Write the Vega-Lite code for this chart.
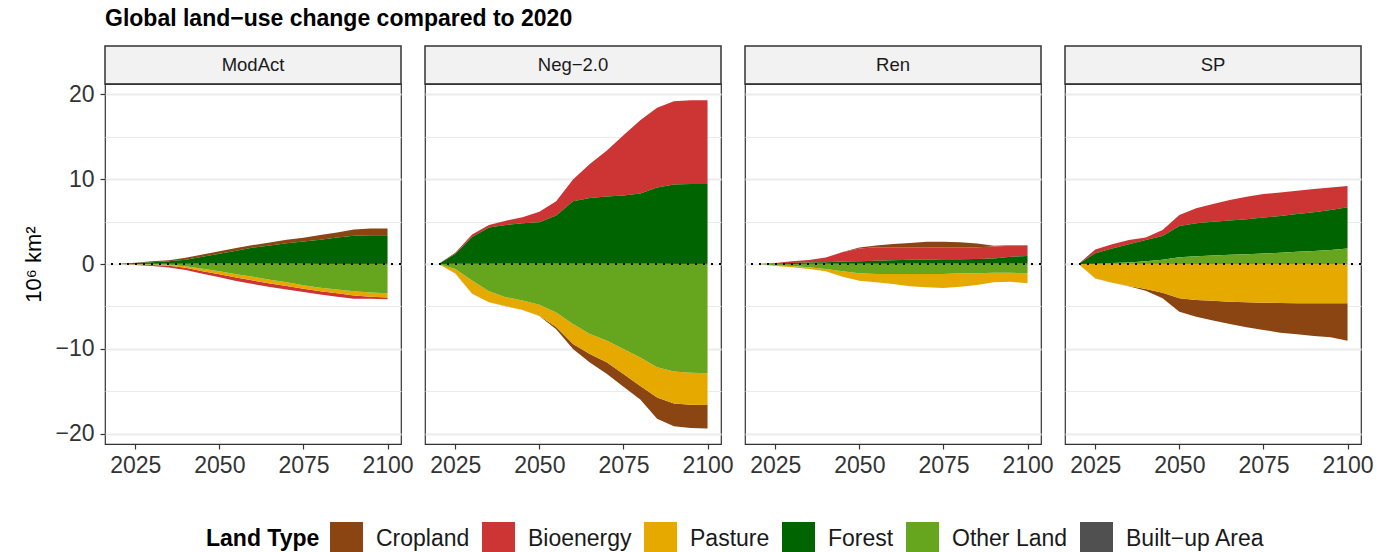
{
  "$schema": "https://vega.github.io/schema/vega-lite/v6.json",
  "padding": {"left": 22, "top": 8, "right": 5, "bottom": 5},
  "title": {"text": "Global land−use change compared to 2020", "anchor": "start", "frame": "group", "fontSize": 23, "fontWeight": "bold", "color": "#000000", "offset": 14, "font": "Liberation Sans"},
  "datasets": {
    "landTypes": [
      {"type": "Built−up Area", "stackOrder": 0},
      {"type": "Other Land", "stackOrder": 1},
      {"type": "Forest", "stackOrder": 2},
      {"type": "Pasture", "stackOrder": 3},
      {"type": "Bioenergy", "stackOrder": 4},
      {"type": "Cropland", "stackOrder": 5}
    ],
    "lu": [
      {"scenario":"ModAct","year":2020,"type":"Cropland","value":0},{"scenario":"ModAct","year":2020,"type":"Bioenergy","value":0},{"scenario":"ModAct","year":2020,"type":"Pasture","value":0},{"scenario":"ModAct","year":2020,"type":"Forest","value":0},{"scenario":"ModAct","year":2020,"type":"Other Land","value":0},{"scenario":"ModAct","year":2020,"type":"Built−up Area","value":0},
      {"scenario":"ModAct","year":2025,"type":"Cropland","value":0.05},{"scenario":"ModAct","year":2025,"type":"Bioenergy","value":-0.05},{"scenario":"ModAct","year":2025,"type":"Pasture","value":-0.03},{"scenario":"ModAct","year":2025,"type":"Forest","value":0.1},{"scenario":"ModAct","year":2025,"type":"Other Land","value":-0.03},{"scenario":"ModAct","year":2025,"type":"Built−up Area","value":0.01},
      {"scenario":"ModAct","year":2030,"type":"Cropland","value":0.1},{"scenario":"ModAct","year":2030,"type":"Bioenergy","value":-0.12},{"scenario":"ModAct","year":2030,"type":"Pasture","value":-0.06},{"scenario":"ModAct","year":2030,"type":"Forest","value":0.2},{"scenario":"ModAct","year":2030,"type":"Other Land","value":-0.06},{"scenario":"ModAct","year":2030,"type":"Built−up Area","value":0.02},
      {"scenario":"ModAct","year":2035,"type":"Cropland","value":0.12},{"scenario":"ModAct","year":2035,"type":"Bioenergy","value":-0.2},{"scenario":"ModAct","year":2035,"type":"Pasture","value":-0.1},{"scenario":"ModAct","year":2035,"type":"Forest","value":0.3},{"scenario":"ModAct","year":2035,"type":"Other Land","value":-0.1},{"scenario":"ModAct","year":2035,"type":"Built−up Area","value":0.03},
      {"scenario":"ModAct","year":2040,"type":"Cropland","value":0.25},{"scenario":"ModAct","year":2040,"type":"Bioenergy","value":-0.25},{"scenario":"ModAct","year":2040,"type":"Pasture","value":-0.2},{"scenario":"ModAct","year":2040,"type":"Forest","value":0.45},{"scenario":"ModAct","year":2040,"type":"Other Land","value":-0.25},{"scenario":"ModAct","year":2040,"type":"Built−up Area","value":0.04},
      {"scenario":"ModAct","year":2045,"type":"Cropland","value":0.28},{"scenario":"ModAct","year":2045,"type":"Bioenergy","value":-0.3},{"scenario":"ModAct","year":2045,"type":"Pasture","value":-0.3},{"scenario":"ModAct","year":2045,"type":"Forest","value":0.8},{"scenario":"ModAct","year":2045,"type":"Other Land","value":-0.55},{"scenario":"ModAct","year":2045,"type":"Built−up Area","value":0.05},
      {"scenario":"ModAct","year":2050,"type":"Cropland","value":0.3},{"scenario":"ModAct","year":2050,"type":"Bioenergy","value":-0.35},{"scenario":"ModAct","year":2050,"type":"Pasture","value":-0.35},{"scenario":"ModAct","year":2050,"type":"Forest","value":1.15},{"scenario":"ModAct","year":2050,"type":"Other Land","value":-0.85},{"scenario":"ModAct","year":2050,"type":"Built−up Area","value":0.06},
      {"scenario":"ModAct","year":2055,"type":"Cropland","value":0.3},{"scenario":"ModAct","year":2055,"type":"Bioenergy","value":-0.4},{"scenario":"ModAct","year":2055,"type":"Pasture","value":-0.4},{"scenario":"ModAct","year":2055,"type":"Forest","value":1.5},{"scenario":"ModAct","year":2055,"type":"Other Land","value":-1.2},{"scenario":"ModAct","year":2055,"type":"Built−up Area","value":0.07},
      {"scenario":"ModAct","year":2060,"type":"Cropland","value":0.3},{"scenario":"ModAct","year":2060,"type":"Bioenergy","value":-0.4},{"scenario":"ModAct","year":2060,"type":"Pasture","value":-0.45},{"scenario":"ModAct","year":2060,"type":"Forest","value":1.85},{"scenario":"ModAct","year":2060,"type":"Other Land","value":-1.5},{"scenario":"ModAct","year":2060,"type":"Built−up Area","value":0.08},
      {"scenario":"ModAct","year":2065,"type":"Cropland","value":0.35},{"scenario":"ModAct","year":2065,"type":"Bioenergy","value":-0.4},{"scenario":"ModAct","year":2065,"type":"Pasture","value":-0.45},{"scenario":"ModAct","year":2065,"type":"Forest","value":2.1},{"scenario":"ModAct","year":2065,"type":"Other Land","value":-1.85},{"scenario":"ModAct","year":2065,"type":"Built−up Area","value":0.09},
      {"scenario":"ModAct","year":2070,"type":"Cropland","value":0.4},{"scenario":"ModAct","year":2070,"type":"Bioenergy","value":-0.4},{"scenario":"ModAct","year":2070,"type":"Pasture","value":-0.45},{"scenario":"ModAct","year":2070,"type":"Forest","value":2.35},{"scenario":"ModAct","year":2070,"type":"Other Land","value":-2.15},{"scenario":"ModAct","year":2070,"type":"Built−up Area","value":0.1},
      {"scenario":"ModAct","year":2075,"type":"Cropland","value":0.45},{"scenario":"ModAct","year":2075,"type":"Bioenergy","value":-0.4},{"scenario":"ModAct","year":2075,"type":"Pasture","value":-0.4},{"scenario":"ModAct","year":2075,"type":"Forest","value":2.55},{"scenario":"ModAct","year":2075,"type":"Other Land","value":-2.5},{"scenario":"ModAct","year":2075,"type":"Built−up Area","value":0.1},
      {"scenario":"ModAct","year":2080,"type":"Cropland","value":0.55},{"scenario":"ModAct","year":2080,"type":"Bioenergy","value":-0.4},{"scenario":"ModAct","year":2080,"type":"Pasture","value":-0.4},{"scenario":"ModAct","year":2080,"type":"Forest","value":2.75},{"scenario":"ModAct","year":2080,"type":"Other Land","value":-2.8},{"scenario":"ModAct","year":2080,"type":"Built−up Area","value":0.11},
      {"scenario":"ModAct","year":2085,"type":"Cropland","value":0.6},{"scenario":"ModAct","year":2085,"type":"Bioenergy","value":-0.4},{"scenario":"ModAct","year":2085,"type":"Pasture","value":-0.45},{"scenario":"ModAct","year":2085,"type":"Forest","value":3.0},{"scenario":"ModAct","year":2085,"type":"Other Land","value":-3.0},{"scenario":"ModAct","year":2085,"type":"Built−up Area","value":0.12},
      {"scenario":"ModAct","year":2090,"type":"Cropland","value":0.75},{"scenario":"ModAct","year":2090,"type":"Bioenergy","value":-0.4},{"scenario":"ModAct","year":2090,"type":"Pasture","value":-0.5},{"scenario":"ModAct","year":2090,"type":"Forest","value":3.2},{"scenario":"ModAct","year":2090,"type":"Other Land","value":-3.2},{"scenario":"ModAct","year":2090,"type":"Built−up Area","value":0.12},
      {"scenario":"ModAct","year":2095,"type":"Cropland","value":0.8},{"scenario":"ModAct","year":2095,"type":"Bioenergy","value":-0.25},{"scenario":"ModAct","year":2095,"type":"Pasture","value":-0.5},{"scenario":"ModAct","year":2095,"type":"Forest","value":3.25},{"scenario":"ModAct","year":2095,"type":"Other Land","value":-3.35},{"scenario":"ModAct","year":2095,"type":"Built−up Area","value":0.13},
      {"scenario":"ModAct","year":2100,"type":"Cropland","value":0.8},{"scenario":"ModAct","year":2100,"type":"Bioenergy","value":-0.2},{"scenario":"ModAct","year":2100,"type":"Pasture","value":-0.5},{"scenario":"ModAct","year":2100,"type":"Forest","value":3.25},{"scenario":"ModAct","year":2100,"type":"Other Land","value":-3.45},{"scenario":"ModAct","year":2100,"type":"Built−up Area","value":0.13},

      {"scenario":"Neg−2.0","year":2020,"type":"Cropland","value":0},{"scenario":"Neg−2.0","year":2020,"type":"Bioenergy","value":0},{"scenario":"Neg−2.0","year":2020,"type":"Pasture","value":0},{"scenario":"Neg−2.0","year":2020,"type":"Forest","value":0},{"scenario":"Neg−2.0","year":2020,"type":"Other Land","value":0},{"scenario":"Neg−2.0","year":2020,"type":"Built−up Area","value":0},
      {"scenario":"Neg−2.0","year":2025,"type":"Cropland","value":-0.01},{"scenario":"Neg−2.0","year":2025,"type":"Bioenergy","value":0.15},{"scenario":"Neg−2.0","year":2025,"type":"Pasture","value":-0.5},{"scenario":"Neg−2.0","year":2025,"type":"Forest","value":1.15},{"scenario":"Neg−2.0","year":2025,"type":"Other Land","value":-0.6},{"scenario":"Neg−2.0","year":2025,"type":"Built−up Area","value":0.02},
      {"scenario":"Neg−2.0","year":2030,"type":"Cropland","value":-0.01},{"scenario":"Neg−2.0","year":2030,"type":"Bioenergy","value":0.3},{"scenario":"Neg−2.0","year":2030,"type":"Pasture","value":-1.55},{"scenario":"Neg−2.0","year":2030,"type":"Forest","value":3.15},{"scenario":"Neg−2.0","year":2030,"type":"Other Land","value":-1.95},{"scenario":"Neg−2.0","year":2030,"type":"Built−up Area","value":0.03},
      {"scenario":"Neg−2.0","year":2035,"type":"Cropland","value":-0.01},{"scenario":"Neg−2.0","year":2035,"type":"Bioenergy","value":0.3},{"scenario":"Neg−2.0","year":2035,"type":"Pasture","value":-1.3},{"scenario":"Neg−2.0","year":2035,"type":"Forest","value":4.25},{"scenario":"Neg−2.0","year":2035,"type":"Other Land","value":-3.2},{"scenario":"Neg−2.0","year":2035,"type":"Built−up Area","value":0.04},
      {"scenario":"Neg−2.0","year":2040,"type":"Cropland","value":-0.01},{"scenario":"Neg−2.0","year":2040,"type":"Bioenergy","value":0.5},{"scenario":"Neg−2.0","year":2040,"type":"Pasture","value":-1.05},{"scenario":"Neg−2.0","year":2040,"type":"Forest","value":4.55},{"scenario":"Neg−2.0","year":2040,"type":"Other Land","value":-3.9},{"scenario":"Neg−2.0","year":2040,"type":"Built−up Area","value":0.05},
      {"scenario":"Neg−2.0","year":2045,"type":"Cropland","value":-0.01},{"scenario":"Neg−2.0","year":2045,"type":"Bioenergy","value":0.7},{"scenario":"Neg−2.0","year":2045,"type":"Pasture","value":-1.1},{"scenario":"Neg−2.0","year":2045,"type":"Forest","value":4.75},{"scenario":"Neg−2.0","year":2045,"type":"Other Land","value":-4.3},{"scenario":"Neg−2.0","year":2045,"type":"Built−up Area","value":0.05},
      {"scenario":"Neg−2.0","year":2050,"type":"Cropland","value":-0.01},{"scenario":"Neg−2.0","year":2050,"type":"Bioenergy","value":1.25},{"scenario":"Neg−2.0","year":2050,"type":"Pasture","value":-1.3},{"scenario":"Neg−2.0","year":2050,"type":"Forest","value":4.85},{"scenario":"Neg−2.0","year":2050,"type":"Other Land","value":-4.8},{"scenario":"Neg−2.0","year":2050,"type":"Built−up Area","value":0.06},
      {"scenario":"Neg−2.0","year":2055,"type":"Cropland","value":-0.28},{"scenario":"Neg−2.0","year":2055,"type":"Bioenergy","value":1.65},{"scenario":"Neg−2.0","year":2055,"type":"Pasture","value":-1.7},{"scenario":"Neg−2.0","year":2055,"type":"Forest","value":5.65},{"scenario":"Neg−2.0","year":2055,"type":"Other Land","value":-5.7},{"scenario":"Neg−2.0","year":2055,"type":"Built−up Area","value":0.07},
      {"scenario":"Neg−2.0","year":2060,"type":"Cropland","value":-0.6},{"scenario":"Neg−2.0","year":2060,"type":"Bioenergy","value":2.55},{"scenario":"Neg−2.0","year":2060,"type":"Pasture","value":-2.35},{"scenario":"Neg−2.0","year":2060,"type":"Forest","value":7.3},{"scenario":"Neg−2.0","year":2060,"type":"Other Land","value":-7.05},{"scenario":"Neg−2.0","year":2060,"type":"Built−up Area","value":0.08},
      {"scenario":"Neg−2.0","year":2065,"type":"Cropland","value":-1.0},{"scenario":"Neg−2.0","year":2065,"type":"Bioenergy","value":4.0},{"scenario":"Neg−2.0","year":2065,"type":"Pasture","value":-2.35},{"scenario":"Neg−2.0","year":2065,"type":"Forest","value":7.7},{"scenario":"Neg−2.0","year":2065,"type":"Other Land","value":-8.25},{"scenario":"Neg−2.0","year":2065,"type":"Built−up Area","value":0.08},
      {"scenario":"Neg−2.0","year":2070,"type":"Cropland","value":-1.35},{"scenario":"Neg−2.0","year":2070,"type":"Bioenergy","value":5.4},{"scenario":"Neg−2.0","year":2070,"type":"Pasture","value":-2.55},{"scenario":"Neg−2.0","year":2070,"type":"Forest","value":7.85},{"scenario":"Neg−2.0","year":2070,"type":"Other Land","value":-9.0},{"scenario":"Neg−2.0","year":2070,"type":"Built−up Area","value":0.09},
      {"scenario":"Neg−2.0","year":2075,"type":"Cropland","value":-1.5},{"scenario":"Neg−2.0","year":2075,"type":"Bioenergy","value":7.1},{"scenario":"Neg−2.0","year":2075,"type":"Pasture","value":-2.95},{"scenario":"Neg−2.0","year":2075,"type":"Forest","value":7.95},{"scenario":"Neg−2.0","year":2075,"type":"Other Land","value":-10.0},{"scenario":"Neg−2.0","year":2075,"type":"Built−up Area","value":0.1},
      {"scenario":"Neg−2.0","year":2080,"type":"Cropland","value":-1.6},{"scenario":"Neg−2.0","year":2080,"type":"Bioenergy","value":8.6},{"scenario":"Neg−2.0","year":2080,"type":"Pasture","value":-3.35},{"scenario":"Neg−2.0","year":2080,"type":"Forest","value":8.2},{"scenario":"Neg−2.0","year":2080,"type":"Other Land","value":-11.0},{"scenario":"Neg−2.0","year":2080,"type":"Built−up Area","value":0.1},
      {"scenario":"Neg−2.0","year":2085,"type":"Cropland","value":-2.5},{"scenario":"Neg−2.0","year":2085,"type":"Bioenergy","value":9.4},{"scenario":"Neg−2.0","year":2085,"type":"Pasture","value":-3.55},{"scenario":"Neg−2.0","year":2085,"type":"Forest","value":8.9},{"scenario":"Neg−2.0","year":2085,"type":"Other Land","value":-12.15},{"scenario":"Neg−2.0","year":2085,"type":"Built−up Area","value":0.1},
      {"scenario":"Neg−2.0","year":2090,"type":"Cropland","value":-2.7},{"scenario":"Neg−2.0","year":2090,"type":"Bioenergy","value":9.8},{"scenario":"Neg−2.0","year":2090,"type":"Pasture","value":-3.75},{"scenario":"Neg−2.0","year":2090,"type":"Forest","value":9.25},{"scenario":"Neg−2.0","year":2090,"type":"Other Land","value":-12.65},{"scenario":"Neg−2.0","year":2090,"type":"Built−up Area","value":0.11},
      {"scenario":"Neg−2.0","year":2095,"type":"Cropland","value":-2.75},{"scenario":"Neg−2.0","year":2095,"type":"Bioenergy","value":9.85},{"scenario":"Neg−2.0","year":2095,"type":"Pasture","value":-3.75},{"scenario":"Neg−2.0","year":2095,"type":"Forest","value":9.3},{"scenario":"Neg−2.0","year":2095,"type":"Other Land","value":-12.8},{"scenario":"Neg−2.0","year":2095,"type":"Built−up Area","value":0.11},
      {"scenario":"Neg−2.0","year":2100,"type":"Cropland","value":-2.75},{"scenario":"Neg−2.0","year":2100,"type":"Bioenergy","value":9.85},{"scenario":"Neg−2.0","year":2100,"type":"Pasture","value":-3.75},{"scenario":"Neg−2.0","year":2100,"type":"Forest","value":9.3},{"scenario":"Neg−2.0","year":2100,"type":"Other Land","value":-12.85},{"scenario":"Neg−2.0","year":2100,"type":"Built−up Area","value":0.11},

      {"scenario":"Ren","year":2020,"type":"Cropland","value":0},{"scenario":"Ren","year":2020,"type":"Bioenergy","value":0},{"scenario":"Ren","year":2020,"type":"Pasture","value":0},{"scenario":"Ren","year":2020,"type":"Forest","value":0},{"scenario":"Ren","year":2020,"type":"Other Land","value":0},{"scenario":"Ren","year":2020,"type":"Built−up Area","value":0},
      {"scenario":"Ren","year":2025,"type":"Cropland","value":0},{"scenario":"Ren","year":2025,"type":"Bioenergy","value":0.07},{"scenario":"Ren","year":2025,"type":"Pasture","value":-0.08},{"scenario":"Ren","year":2025,"type":"Forest","value":0.05},{"scenario":"Ren","year":2025,"type":"Other Land","value":-0.16},{"scenario":"Ren","year":2025,"type":"Built−up Area","value":0.01},
      {"scenario":"Ren","year":2030,"type":"Cropland","value":0},{"scenario":"Ren","year":2030,"type":"Bioenergy","value":0.2},{"scenario":"Ren","year":2030,"type":"Pasture","value":-0.15},{"scenario":"Ren","year":2030,"type":"Forest","value":0.1},{"scenario":"Ren","year":2030,"type":"Other Land","value":-0.24},{"scenario":"Ren","year":2030,"type":"Built−up Area","value":0.01},
      {"scenario":"Ren","year":2035,"type":"Cropland","value":0},{"scenario":"Ren","year":2035,"type":"Bioenergy","value":0.3},{"scenario":"Ren","year":2035,"type":"Pasture","value":-0.2},{"scenario":"Ren","year":2035,"type":"Forest","value":0.15},{"scenario":"Ren","year":2035,"type":"Other Land","value":-0.39},{"scenario":"Ren","year":2035,"type":"Built−up Area","value":0.02},
      {"scenario":"Ren","year":2040,"type":"Cropland","value":0},{"scenario":"Ren","year":2040,"type":"Bioenergy","value":0.55},{"scenario":"Ren","year":2040,"type":"Pasture","value":-0.27},{"scenario":"Ren","year":2040,"type":"Forest","value":0.2},{"scenario":"Ren","year":2040,"type":"Other Land","value":-0.59},{"scenario":"Ren","year":2040,"type":"Built−up Area","value":0.02},
      {"scenario":"Ren","year":2045,"type":"Cropland","value":0.02},{"scenario":"Ren","year":2045,"type":"Bioenergy","value":1.1},{"scenario":"Ren","year":2045,"type":"Pasture","value":-0.63},{"scenario":"Ren","year":2045,"type":"Forest","value":0.25},{"scenario":"Ren","year":2045,"type":"Other Land","value":-0.86},{"scenario":"Ren","year":2045,"type":"Built−up Area","value":0.03},
      {"scenario":"Ren","year":2050,"type":"Cropland","value":0.12},{"scenario":"Ren","year":2050,"type":"Bioenergy","value":1.5},{"scenario":"Ren","year":2050,"type":"Pasture","value":-0.86},{"scenario":"Ren","year":2050,"type":"Forest","value":0.3},{"scenario":"Ren","year":2050,"type":"Other Land","value":-1.1},{"scenario":"Ren","year":2050,"type":"Built−up Area","value":0.03},
      {"scenario":"Ren","year":2055,"type":"Cropland","value":0.2},{"scenario":"Ren","year":2055,"type":"Bioenergy","value":1.58},{"scenario":"Ren","year":2055,"type":"Pasture","value":-0.98},{"scenario":"Ren","year":2055,"type":"Forest","value":0.35},{"scenario":"Ren","year":2055,"type":"Other Land","value":-1.18},{"scenario":"Ren","year":2055,"type":"Built−up Area","value":0.04},
      {"scenario":"Ren","year":2060,"type":"Cropland","value":0.39},{"scenario":"Ren","year":2060,"type":"Bioenergy","value":1.52},{"scenario":"Ren","year":2060,"type":"Pasture","value":-1.17},{"scenario":"Ren","year":2060,"type":"Forest","value":0.4},{"scenario":"Ren","year":2060,"type":"Other Land","value":-1.18},{"scenario":"Ren","year":2060,"type":"Built−up Area","value":0.04},
      {"scenario":"Ren","year":2065,"type":"Cropland","value":0.5},{"scenario":"Ren","year":2065,"type":"Bioenergy","value":1.47},{"scenario":"Ren","year":2065,"type":"Pasture","value":-1.45},{"scenario":"Ren","year":2065,"type":"Forest","value":0.45},{"scenario":"Ren","year":2065,"type":"Other Land","value":-1.18},{"scenario":"Ren","year":2065,"type":"Built−up Area","value":0.05},
      {"scenario":"Ren","year":2070,"type":"Cropland","value":0.65},{"scenario":"Ren","year":2070,"type":"Bioenergy","value":1.47},{"scenario":"Ren","year":2070,"type":"Pasture","value":-1.57},{"scenario":"Ren","year":2070,"type":"Forest","value":0.45},{"scenario":"Ren","year":2070,"type":"Other Land","value":-1.18},{"scenario":"Ren","year":2070,"type":"Built−up Area","value":0.05},
      {"scenario":"Ren","year":2075,"type":"Cropland","value":0.65},{"scenario":"Ren","year":2075,"type":"Bioenergy","value":1.42},{"scenario":"Ren","year":2075,"type":"Pasture","value":-1.64},{"scenario":"Ren","year":2075,"type":"Forest","value":0.5},{"scenario":"Ren","year":2075,"type":"Other Land","value":-1.18},{"scenario":"Ren","year":2075,"type":"Built−up Area","value":0.05},
      {"scenario":"Ren","year":2080,"type":"Cropland","value":0.58},{"scenario":"Ren","year":2080,"type":"Bioenergy","value":1.42},{"scenario":"Ren","year":2080,"type":"Pasture","value":-1.57},{"scenario":"Ren","year":2080,"type":"Forest","value":0.5},{"scenario":"Ren","year":2080,"type":"Other Land","value":-1.1},{"scenario":"Ren","year":2080,"type":"Built−up Area","value":0.05},
      {"scenario":"Ren","year":2085,"type":"Cropland","value":0.45},{"scenario":"Ren","year":2085,"type":"Bioenergy","value":1.36},{"scenario":"Ren","year":2085,"type":"Pasture","value":-1.37},{"scenario":"Ren","year":2085,"type":"Forest","value":0.55},{"scenario":"Ren","year":2085,"type":"Other Land","value":-1.1},{"scenario":"Ren","year":2085,"type":"Built−up Area","value":0.05},
      {"scenario":"Ren","year":2090,"type":"Cropland","value":0.1},{"scenario":"Ren","year":2090,"type":"Bioenergy","value":1.4},{"scenario":"Ren","year":2090,"type":"Pasture","value":-1.14},{"scenario":"Ren","year":2090,"type":"Forest","value":0.6},{"scenario":"Ren","year":2090,"type":"Other Land","value":-1.02},{"scenario":"Ren","year":2090,"type":"Built−up Area","value":0.05},
      {"scenario":"Ren","year":2095,"type":"Cropland","value":0.05},{"scenario":"Ren","year":2095,"type":"Bioenergy","value":1.3},{"scenario":"Ren","year":2095,"type":"Pasture","value":-1.06},{"scenario":"Ren","year":2095,"type":"Forest","value":0.8},{"scenario":"Ren","year":2095,"type":"Other Land","value":-1.02},{"scenario":"Ren","year":2095,"type":"Built−up Area","value":0.05},
      {"scenario":"Ren","year":2100,"type":"Cropland","value":0.05},{"scenario":"Ren","year":2100,"type":"Bioenergy","value":1.2},{"scenario":"Ren","year":2100,"type":"Pasture","value":-1.17},{"scenario":"Ren","year":2100,"type":"Forest","value":0.9},{"scenario":"Ren","year":2100,"type":"Other Land","value":-1.1},{"scenario":"Ren","year":2100,"type":"Built−up Area","value":0.05},

      {"scenario":"SP","year":2020,"type":"Cropland","value":0},{"scenario":"SP","year":2020,"type":"Bioenergy","value":0},{"scenario":"SP","year":2020,"type":"Pasture","value":0},{"scenario":"SP","year":2020,"type":"Forest","value":0},{"scenario":"SP","year":2020,"type":"Other Land","value":0},{"scenario":"SP","year":2020,"type":"Built−up Area","value":0},
      {"scenario":"SP","year":2025,"type":"Cropland","value":-0.01},{"scenario":"SP","year":2025,"type":"Bioenergy","value":0.45},{"scenario":"SP","year":2025,"type":"Pasture","value":-1.69},{"scenario":"SP","year":2025,"type":"Forest","value":1.25},{"scenario":"SP","year":2025,"type":"Other Land","value":0},{"scenario":"SP","year":2025,"type":"Built−up Area","value":0.02},
      {"scenario":"SP","year":2030,"type":"Cropland","value":-0.01},{"scenario":"SP","year":2030,"type":"Bioenergy","value":0.5},{"scenario":"SP","year":2030,"type":"Pasture","value":-2.2},{"scenario":"SP","year":2030,"type":"Forest","value":1.7},{"scenario":"SP","year":2030,"type":"Other Land","value":0.08},{"scenario":"SP","year":2030,"type":"Built−up Area","value":0.03},
      {"scenario":"SP","year":2035,"type":"Cropland","value":-0.01},{"scenario":"SP","year":2035,"type":"Bioenergy","value":0.5},{"scenario":"SP","year":2035,"type":"Pasture","value":-2.6},{"scenario":"SP","year":2035,"type":"Forest","value":2.13},{"scenario":"SP","year":2035,"type":"Other Land","value":0.16},{"scenario":"SP","year":2035,"type":"Built−up Area","value":0.03},
      {"scenario":"SP","year":2040,"type":"Cropland","value":-0.2},{"scenario":"SP","year":2040,"type":"Bioenergy","value":0.3},{"scenario":"SP","year":2040,"type":"Pasture","value":-2.95},{"scenario":"SP","year":2040,"type":"Forest","value":2.52},{"scenario":"SP","year":2040,"type":"Other Land","value":0.27},{"scenario":"SP","year":2040,"type":"Built−up Area","value":0.04},
      {"scenario":"SP","year":2045,"type":"Cropland","value":-0.67},{"scenario":"SP","year":2045,"type":"Bioenergy","value":0.7},{"scenario":"SP","year":2045,"type":"Pasture","value":-3.37},{"scenario":"SP","year":2045,"type":"Forest","value":2.78},{"scenario":"SP","year":2045,"type":"Other Land","value":0.47},{"scenario":"SP","year":2045,"type":"Built−up Area","value":0.04},
      {"scenario":"SP","year":2050,"type":"Cropland","value":-1.57},{"scenario":"SP","year":2050,"type":"Bioenergy","value":1.28},{"scenario":"SP","year":2050,"type":"Pasture","value":-4.04},{"scenario":"SP","year":2050,"type":"Forest","value":3.68},{"scenario":"SP","year":2050,"type":"Other Land","value":0.75},{"scenario":"SP","year":2050,"type":"Built−up Area","value":0.05},
      {"scenario":"SP","year":2055,"type":"Cropland","value":-1.96},{"scenario":"SP","year":2055,"type":"Bioenergy","value":1.76},{"scenario":"SP","year":2055,"type":"Pasture","value":-4.24},{"scenario":"SP","year":2055,"type":"Forest","value":3.88},{"scenario":"SP","year":2055,"type":"Other Land","value":0.86},{"scenario":"SP","year":2055,"type":"Built−up Area","value":0.05},
      {"scenario":"SP","year":2060,"type":"Cropland","value":-2.35},{"scenario":"SP","year":2060,"type":"Bioenergy","value":2.07},{"scenario":"SP","year":2060,"type":"Pasture","value":-4.31},{"scenario":"SP","year":2060,"type":"Forest","value":3.99},{"scenario":"SP","year":2060,"type":"Other Land","value":0.94},{"scenario":"SP","year":2060,"type":"Built−up Area","value":0.05},
      {"scenario":"SP","year":2065,"type":"Cropland","value":-2.63},{"scenario":"SP","year":2065,"type":"Bioenergy","value":2.42},{"scenario":"SP","year":2065,"type":"Pasture","value":-4.43},{"scenario":"SP","year":2065,"type":"Forest","value":4.03},{"scenario":"SP","year":2065,"type":"Other Land","value":1.02},{"scenario":"SP","year":2065,"type":"Built−up Area","value":0.06},
      {"scenario":"SP","year":2070,"type":"Cropland","value":-2.94},{"scenario":"SP","year":2070,"type":"Bioenergy","value":2.66},{"scenario":"SP","year":2070,"type":"Pasture","value":-4.51},{"scenario":"SP","year":2070,"type":"Forest","value":4.1},{"scenario":"SP","year":2070,"type":"Other Land","value":1.1},{"scenario":"SP","year":2070,"type":"Built−up Area","value":0.06},
      {"scenario":"SP","year":2075,"type":"Cropland","value":-3.22},{"scenario":"SP","year":2075,"type":"Bioenergy","value":2.78},{"scenario":"SP","year":2075,"type":"Pasture","value":-4.55},{"scenario":"SP","year":2075,"type":"Forest","value":4.22},{"scenario":"SP","year":2075,"type":"Other Land","value":1.18},{"scenario":"SP","year":2075,"type":"Built−up Area","value":0.06},
      {"scenario":"SP","year":2080,"type":"Cropland","value":-3.49},{"scenario":"SP","year":2080,"type":"Bioenergy","value":2.77},{"scenario":"SP","year":2080,"type":"Pasture","value":-4.59},{"scenario":"SP","year":2080,"type":"Forest","value":4.34},{"scenario":"SP","year":2080,"type":"Other Land","value":1.25},{"scenario":"SP","year":2080,"type":"Built−up Area","value":0.06},
      {"scenario":"SP","year":2085,"type":"Cropland","value":-3.65},{"scenario":"SP","year":2085,"type":"Bioenergy","value":2.74},{"scenario":"SP","year":2085,"type":"Pasture","value":-4.63},{"scenario":"SP","year":2085,"type":"Forest","value":4.45},{"scenario":"SP","year":2085,"type":"Other Land","value":1.37},{"scenario":"SP","year":2085,"type":"Built−up Area","value":0.06},
      {"scenario":"SP","year":2090,"type":"Cropland","value":-3.84},{"scenario":"SP","year":2090,"type":"Bioenergy","value":2.73},{"scenario":"SP","year":2090,"type":"Pasture","value":-4.63},{"scenario":"SP","year":2090,"type":"Forest","value":4.57},{"scenario":"SP","year":2090,"type":"Other Land","value":1.45},{"scenario":"SP","year":2090,"type":"Built−up Area","value":0.07},
      {"scenario":"SP","year":2095,"type":"Cropland","value":-4.0},{"scenario":"SP","year":2095,"type":"Bioenergy","value":2.66},{"scenario":"SP","year":2095,"type":"Pasture","value":-4.63},{"scenario":"SP","year":2095,"type":"Forest","value":4.71},{"scenario":"SP","year":2095,"type":"Other Land","value":1.57},{"scenario":"SP","year":2095,"type":"Built−up Area","value":0.07},
      {"scenario":"SP","year":2100,"type":"Cropland","value":-4.39},{"scenario":"SP","year":2100,"type":"Bioenergy","value":2.5},{"scenario":"SP","year":2100,"type":"Pasture","value":-4.63},{"scenario":"SP","year":2100,"type":"Forest","value":4.84},{"scenario":"SP","year":2100,"type":"Other Land","value":1.76},{"scenario":"SP","year":2100,"type":"Built−up Area","value":0.07}
    ]
  },
  "hconcat": [
    {
      "vconcat": [
        {"width": 296, "height": 38, "view": {"fill": "#F2F2F2", "stroke": "#333333", "strokeWidth": 1.5},
         "data": {"name": "lu"},
         "transform": [{"filter": "datum.scenario === 'ModAct' && datum.year === 2020 && datum.type === 'Cropland'"}],
         "mark": {"type": "text", "fontSize": 18.5, "color": "#1A1A1A", "baseline": "middle", "align": "center", "font": "Liberation Sans"},
         "encoding": {"text": {"field": "scenario", "type": "nominal"}}},
        {"width": 296, "height": 360, "view": {"stroke": "#333333", "strokeWidth": 1.2},
         "data": {"name": "lu"},
         "transform": [{"filter": {"field": "scenario", "equal": "ModAct"}}],
         "layer": [
           {"transform": [{"lookup": "type", "from": {"data": {"name": "landTypes"}, "key": "type", "fields": ["stackOrder"]}}],
            "mark": {"type": "area", "interpolate": "linear"},
            "encoding": {
              "x": {"field": "year", "type": "quantitative", "scale": {"domain": [2016, 2104], "nice": false, "zero": false},
                    "axis": {"values": [2025, 2050, 2075, 2100], "format": "d", "grid": false, "domain": false, "title": null, "labelFontSize": 23, "labelColor": "#333333", "tickSize": 5, "tickColor": "#333333", "tickWidth": 1.2, "labelPadding": 5, "labelFlush": false}},
              "y": {"field": "value", "type": "quantitative", "stack": "zero", "scale": {"domain": [-21.18, 21.18], "nice": false},
                    "axis": {"values": [-20, -15, -10, -5, 0, 5, 10, 15, 20], "labelExpr": "datum.value % 10 === 0 ? datum.label : ''", "title": "10⁶ km²", "grid": true, "gridColor": "#EBEBEB", "gridWidth": {"condition": {"test": "datum.value % 10 === 0", "value": 2}, "value": 1.2}, "tickOpacity": {"condition": {"test": "datum.value % 10 === 0", "value": 1}, "value": 0}, "tickSize": 5, "tickColor": "#333333", "tickWidth": 1.2, "domain": false, "labelFontSize": 23, "labelColor": "#333333", "labelPadding": 6, "titleFontSize": 22, "titleFontWeight": "normal", "titleColor": "#000000", "titlePadding": 9}},
              "color": {"field": "type", "type": "nominal", "title": "Land Type", "scale": {"domain": ["Cropland", "Bioenergy", "Pasture", "Forest", "Other Land", "Built−up Area"], "range": ["#8B4513", "#CD3434", "#E6A900", "#006400", "#66A61E", "#505050"]}, "legend": {"orient": "none", "legendX": 101, "legendY": 476, "direction": "horizontal"}},
              "order": {"field": "stackOrder", "type": "quantitative", "sort": "ascending"}
            }},
           {"transform": [{"filter": "datum.year === 2020 && datum.type === 'Cropland'"}],
            "mark": {"type": "rule", "color": "#000000", "strokeDash": [2, 6], "strokeWidth": 2},
            "encoding": {"y": {"datum": 0}}}
         ]}
      ],
      "spacing": 0, "bounds": "flush",
      "resolve": {"scale": {"color": "shared"}, "legend": {"color": "shared"}}
    },
    {
      "vconcat": [
        {"width": 296, "height": 38, "view": {"fill": "#F2F2F2", "stroke": "#333333", "strokeWidth": 1.5},
         "data": {"name": "lu"},
         "transform": [{"filter": "datum.scenario === 'Neg−2.0' && datum.year === 2020 && datum.type === 'Cropland'"}],
         "mark": {"type": "text", "fontSize": 18.5, "color": "#1A1A1A", "baseline": "middle", "align": "center", "font": "Liberation Sans"},
         "encoding": {"text": {"field": "scenario", "type": "nominal"}}},
        {"width": 296, "height": 360, "view": {"stroke": "#333333", "strokeWidth": 1.2},
         "data": {"name": "lu"},
         "transform": [{"filter": {"field": "scenario", "equal": "Neg−2.0"}}],
         "layer": [
           {"transform": [{"lookup": "type", "from": {"data": {"name": "landTypes"}, "key": "type", "fields": ["stackOrder"]}}],
            "mark": {"type": "area", "interpolate": "linear"},
            "encoding": {
              "x": {"field": "year", "type": "quantitative", "scale": {"domain": [2016, 2104], "nice": false, "zero": false},
                    "axis": {"values": [2025, 2050, 2075, 2100], "format": "d", "grid": false, "domain": false, "title": null, "labelFontSize": 23, "labelColor": "#333333", "tickSize": 5, "tickColor": "#333333", "tickWidth": 1.2, "labelPadding": 5, "labelFlush": false}},
              "y": {"field": "value", "type": "quantitative", "stack": "zero", "scale": {"domain": [-21.18, 21.18], "nice": false},
                    "axis": {"values": [-20, -15, -10, -5, 0, 5, 10, 15, 20], "labels": false, "ticks": false, "title": null, "grid": true, "gridColor": "#EBEBEB", "gridWidth": {"condition": {"test": "datum.value % 10 === 0", "value": 2}, "value": 1.2}, "domain": false}},
              "color": {"field": "type", "type": "nominal", "title": "Land Type", "scale": {"domain": ["Cropland", "Bioenergy", "Pasture", "Forest", "Other Land", "Built−up Area"], "range": ["#8B4513", "#CD3434", "#E6A900", "#006400", "#66A61E", "#505050"]}, "legend": {"orient": "none", "legendX": 101, "legendY": 476, "direction": "horizontal"}},
              "order": {"field": "stackOrder", "type": "quantitative", "sort": "ascending"}
            }},
           {"transform": [{"filter": "datum.year === 2020 && datum.type === 'Cropland'"}],
            "mark": {"type": "rule", "color": "#000000", "strokeDash": [2, 6], "strokeWidth": 2},
            "encoding": {"y": {"datum": 0}}}
         ]}
      ],
      "spacing": 0, "bounds": "flush",
      "resolve": {"scale": {"color": "shared"}, "legend": {"color": "shared"}}
    },
    {
      "vconcat": [
        {"width": 296, "height": 38, "view": {"fill": "#F2F2F2", "stroke": "#333333", "strokeWidth": 1.5},
         "data": {"name": "lu"},
         "transform": [{"filter": "datum.scenario === 'Ren' && datum.year === 2020 && datum.type === 'Cropland'"}],
         "mark": {"type": "text", "fontSize": 18.5, "color": "#1A1A1A", "baseline": "middle", "align": "center", "font": "Liberation Sans"},
         "encoding": {"text": {"field": "scenario", "type": "nominal"}}},
        {"width": 296, "height": 360, "view": {"stroke": "#333333", "strokeWidth": 1.2},
         "data": {"name": "lu"},
         "transform": [{"filter": {"field": "scenario", "equal": "Ren"}}],
         "layer": [
           {"transform": [{"lookup": "type", "from": {"data": {"name": "landTypes"}, "key": "type", "fields": ["stackOrder"]}}],
            "mark": {"type": "area", "interpolate": "linear"},
            "encoding": {
              "x": {"field": "year", "type": "quantitative", "scale": {"domain": [2016, 2104], "nice": false, "zero": false},
                    "axis": {"values": [2025, 2050, 2075, 2100], "format": "d", "grid": false, "domain": false, "title": null, "labelFontSize": 23, "labelColor": "#333333", "tickSize": 5, "tickColor": "#333333", "tickWidth": 1.2, "labelPadding": 5, "labelFlush": false}},
              "y": {"field": "value", "type": "quantitative", "stack": "zero", "scale": {"domain": [-21.18, 21.18], "nice": false},
                    "axis": {"values": [-20, -15, -10, -5, 0, 5, 10, 15, 20], "labels": false, "ticks": false, "title": null, "grid": true, "gridColor": "#EBEBEB", "gridWidth": {"condition": {"test": "datum.value % 10 === 0", "value": 2}, "value": 1.2}, "domain": false}},
              "color": {"field": "type", "type": "nominal", "title": "Land Type", "scale": {"domain": ["Cropland", "Bioenergy", "Pasture", "Forest", "Other Land", "Built−up Area"], "range": ["#8B4513", "#CD3434", "#E6A900", "#006400", "#66A61E", "#505050"]}, "legend": {"orient": "none", "legendX": 101, "legendY": 476, "direction": "horizontal"}},
              "order": {"field": "stackOrder", "type": "quantitative", "sort": "ascending"}
            }},
           {"transform": [{"filter": "datum.year === 2020 && datum.type === 'Cropland'"}],
            "mark": {"type": "rule", "color": "#000000", "strokeDash": [2, 6], "strokeWidth": 2},
            "encoding": {"y": {"datum": 0}}}
         ]}
      ],
      "spacing": 0, "bounds": "flush",
      "resolve": {"scale": {"color": "shared"}, "legend": {"color": "shared"}}
    },
    {
      "vconcat": [
        {"width": 296, "height": 38, "view": {"fill": "#F2F2F2", "stroke": "#333333", "strokeWidth": 1.5},
         "data": {"name": "lu"},
         "transform": [{"filter": "datum.scenario === 'SP' && datum.year === 2020 && datum.type === 'Cropland'"}],
         "mark": {"type": "text", "fontSize": 18.5, "color": "#1A1A1A", "baseline": "middle", "align": "center", "font": "Liberation Sans"},
         "encoding": {"text": {"field": "scenario", "type": "nominal"}}},
        {"width": 296, "height": 360, "view": {"stroke": "#333333", "strokeWidth": 1.2},
         "data": {"name": "lu"},
         "transform": [{"filter": {"field": "scenario", "equal": "SP"}}],
         "layer": [
           {"transform": [{"lookup": "type", "from": {"data": {"name": "landTypes"}, "key": "type", "fields": ["stackOrder"]}}],
            "mark": {"type": "area", "interpolate": "linear"},
            "encoding": {
              "x": {"field": "year", "type": "quantitative", "scale": {"domain": [2016, 2104], "nice": false, "zero": false},
                    "axis": {"values": [2025, 2050, 2075, 2100], "format": "d", "grid": false, "domain": false, "title": null, "labelFontSize": 23, "labelColor": "#333333", "tickSize": 5, "tickColor": "#333333", "tickWidth": 1.2, "labelPadding": 5, "labelFlush": false}},
              "y": {"field": "value", "type": "quantitative", "stack": "zero", "scale": {"domain": [-21.18, 21.18], "nice": false},
                    "axis": {"values": [-20, -15, -10, -5, 0, 5, 10, 15, 20], "labels": false, "ticks": false, "title": null, "grid": true, "gridColor": "#EBEBEB", "gridWidth": {"condition": {"test": "datum.value % 10 === 0", "value": 2}, "value": 1.2}, "domain": false}},
              "color": {"field": "type", "type": "nominal", "title": "Land Type", "scale": {"domain": ["Cropland", "Bioenergy", "Pasture", "Forest", "Other Land", "Built−up Area"], "range": ["#8B4513", "#CD3434", "#E6A900", "#006400", "#66A61E", "#505050"]}, "legend": {"orient": "none", "legendX": 101, "legendY": 476, "direction": "horizontal"}},
              "order": {"field": "stackOrder", "type": "quantitative", "sort": "ascending"}
            }},
           {"transform": [{"filter": "datum.year === 2020 && datum.type === 'Cropland'"}],
            "mark": {"type": "rule", "color": "#000000", "strokeDash": [2, 6], "strokeWidth": 2},
            "encoding": {"y": {"datum": 0}}}
         ]}
      ],
      "spacing": 0, "bounds": "flush",
      "resolve": {"scale": {"color": "shared"}, "legend": {"color": "shared"}}
    }
  ],
  "spacing": 9,
  "resolve": {"scale": {"color": "shared"}, "legend": {"color": "shared"}},
  "config": {
    "font": "Liberation Sans",
    "background": "#FFFFFF",
    "legend": {"direction": "horizontal", "titleOrient": "left", "titleFontSize": 23, "titleFontWeight": "bold", "titleColor": "#000000", "labelFontSize": 23, "labelColor": "#1A1A1A", "symbolType": "square", "symbolSize": 1089, "symbolStrokeWidth": 0, "symbolOpacity": 1, "labelOffset": 13, "columnPadding": 12, "titlePadding": 10, "labelLimit": 300}
  }
}
